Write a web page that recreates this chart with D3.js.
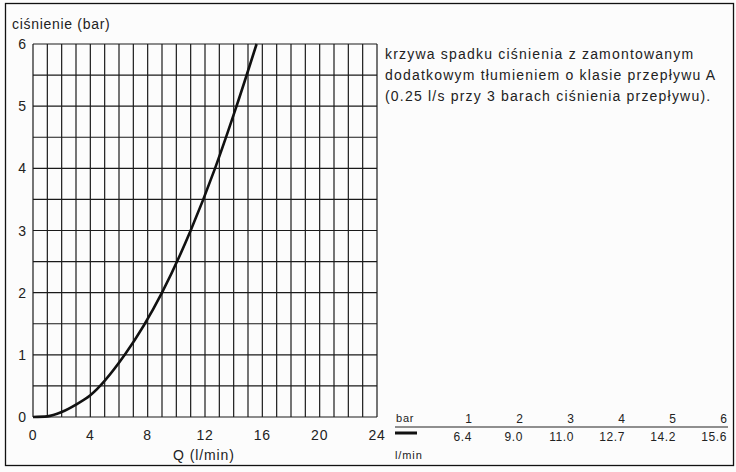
<!DOCTYPE html>
<html>
<head>
<meta charset="utf-8">
<script src="https://cdn.jsdelivr.net/npm/d3@7"></script>
<style>
  body { margin: 0; background: #fff; }
  text { font-family: "Liberation Sans", Arial, sans-serif; fill: #222; }
</style>
</head>
<body>
<div class="chart"></div>
<script>
  var width = 736;
  var height = 472;

  // curve: flow Q (l/min) vs pressure (bar)
  var curveQ = [0, 1, 2, 3, 4, 6.4, 9.0, 11.0, 12.7, 14.2, 15.6];
  var curveP = [0, 0.01, 0.08, 0.2, 0.35, 1, 2, 3, 4, 5, 6];

  var xTicks = [0, 4, 8, 12, 16, 20, 24];
  var yTicks = [0, 1, 2, 3, 4, 5, 6];

  // table under the note
  var tableBar = [1, 2, 3, 4, 5, 6];
  var tableFlow = ["6.4", "9.0", "11.0", "12.7", "14.2", "15.6"];

  var noteLines = [
    "krzywa spadku ciśnienia z zamontowanym",
    "dodatkowym tłumieniem o klasie przepływu A",
    "(0.25 l/s przy 3 barach ciśnienia przepływu)."
  ];

  var svg = d3.select(".chart").append("svg")
    .attr("width", width)
    .attr("height", height);

  svg.append("rect")
    .attr("x", 0).attr("y", 0)
    .attr("width", width).attr("height", height)
    .attr("fill", "#fcfcfc");

  // outer frame
  svg.append("rect")
    .attr("x", 5.5).attr("y", 3.5)
    .attr("width", 728).attr("height", 462)
    .attr("fill", "none")
    .attr("stroke", "#111")
    .attr("stroke-width", 1.3);

  var plotLeft = 33, plotRight = 377, plotTop = 44, plotBottom = 417;

  var x = d3.scaleLinear().domain([0, 24]).range([plotLeft, plotRight]);
  var y = d3.scaleLinear().domain([0, 6]).range([plotBottom, plotTop]);

  var grid = svg.append("g").attr("stroke", "#1a1a1a").attr("stroke-width", 1.2);

  // vertical lines every 1 l/min
  grid.selectAll(".vline")
    .data(d3.range(0, 25))
    .enter()
    .append("line")
    .attr("x1", function(d){ return x(d); })
    .attr("x2", function(d){ return x(d); })
    .attr("y1", y(0))
    .attr("y2", y(6));

  // horizontal lines every 0.5 bar
  grid.selectAll(".hline")
    .data(d3.range(0, 6.01, 0.5))
    .enter()
    .append("line")
    .attr("x1", x(0))
    .attr("x2", x(24))
    .attr("y1", function(d){ return y(d); })
    .attr("y2", function(d){ return y(d); });

  // axis labels
  svg.selectAll(".ylab")
    .data(yTicks)
    .enter()
    .append("text")
    .attr("x", 26)
    .attr("y", function(d){ return y(d) + 5; })
    .attr("text-anchor", "end")
    .attr("font-size", 14)
    .text(function(d){ return d; });

  svg.selectAll(".xlab")
    .data(xTicks)
    .enter()
    .append("text")
    .attr("x", function(d){ return x(d); })
    .attr("y", 440)
    .attr("text-anchor", "middle")
    .attr("font-size", 14)
    .attr("letter-spacing", 0.8)
    .text(function(d){ return d; });

  svg.append("text")
    .attr("x", 12).attr("y", 29)
    .attr("font-size", 14)
    .attr("letter-spacing", 0.7)
    .text("ciśnienie (bar)");

  svg.append("text")
    .attr("x", 204).attr("y", 460)
    .attr("text-anchor", "middle")
    .attr("font-size", 14)
    .attr("letter-spacing", 0.9)
    .text("Q (l/min)");

  // the curve
  var pts = curveQ.map(function(q, i){ return [q, curveP[i]]; });
  var line = d3.line()
    .x(function(d){ return x(d[0]); })
    .y(function(d){ return y(d[1]); })
    .curve(d3.curveMonotoneX);

  svg.append("path")
    .datum(pts)
    .attr("d", line)
    .attr("fill", "none")
    .attr("stroke", "#111")
    .attr("stroke-width", 2.6);

  // note text
  svg.selectAll(".note")
    .data(noteLines)
    .enter()
    .append("text")
    .attr("x", 385)
    .attr("y", function(d, i){ return 59 + i * 21; })
    .attr("font-size", 14)
    .attr("letter-spacing", 1.2)
    .text(function(d){ return d; });

  // table
  var colX = d3.scaleLinear().domain([1, 6]).range([472, 727]);

  svg.append("text")
    .attr("x", 396).attr("y", 422)
    .attr("font-size", 11)
    .attr("letter-spacing", 0.8)
    .text("bar");

  svg.selectAll(".tbar")
    .data(tableBar)
    .enter()
    .append("text")
    .attr("x", function(d){ return colX(d); })
    .attr("y", 423)
    .attr("text-anchor", "end")
    .attr("font-size", 12)
    .text(function(d){ return d; });

  svg.append("line")
    .attr("x1", 395).attr("x2", 728)
    .attr("y1", 427).attr("y2", 427)
    .attr("stroke", "#222").attr("stroke-width", 1);

  svg.append("line")
    .attr("x1", 395).attr("x2", 417)
    .attr("y1", 433).attr("y2", 433)
    .attr("stroke", "#111").attr("stroke-width", 3);

  svg.selectAll(".tflow")
    .data(tableFlow)
    .enter()
    .append("text")
    .attr("x", function(d, i){ return colX(tableBar[i]); })
    .attr("y", 441)
    .attr("text-anchor", "end")
    .attr("font-size", 12)
    .attr("letter-spacing", 0.6)
    .text(function(d){ return d; });

  svg.append("text")
    .attr("x", 395).attr("y", 459)
    .attr("font-size", 11)
    .attr("letter-spacing", 0.9)
    .text("l/min");
</script>
</body>
</html>
